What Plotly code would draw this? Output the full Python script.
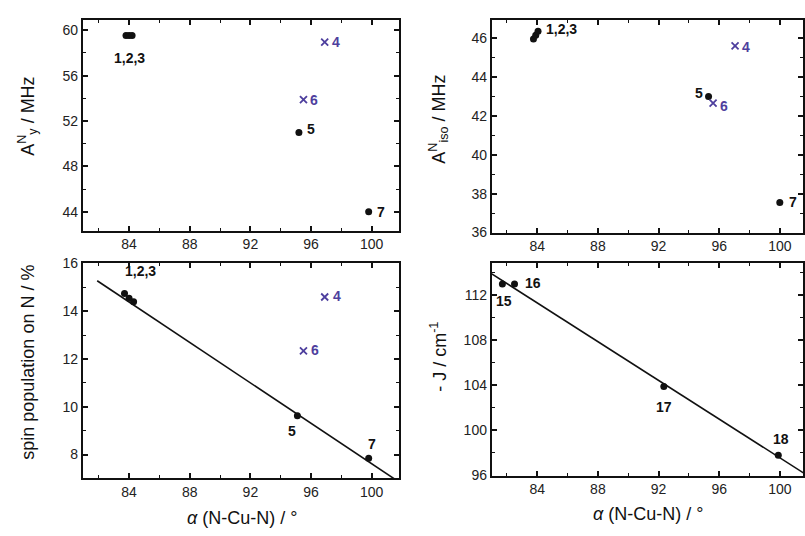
import plotly.graph_objects as go

# ---------------- data ----------------
# panel a: A_y^N vs angle
a_black_x = [83.8, 84.0, 84.2, 95.2, 99.8]
a_black_y = [59.55, 59.55, 59.55, 51.0, 44.0]
a_cross_x = [96.9, 95.5]
a_cross_y = [58.95, 53.9]

# panel b: A_iso^N vs angle
b_black_x = [83.75, 83.9, 84.05, 95.3, 100.0]
b_black_y = [45.95, 46.15, 46.35, 43.0, 37.55]
b_cross_x = [97.05, 95.6]
b_cross_y = [45.6, 42.65]

# panel c: spin population on N vs angle
c_black_x = [83.7, 84.0, 84.3, 95.1, 99.8]
c_black_y = [14.75, 14.55, 14.4, 9.63, 7.85]
c_cross_x = [96.9, 95.5]
c_cross_y = [14.6, 12.34]
c_fit_x = [81.9, 101.5]
c_fit_y = [15.28, 6.98]

# panel d: -J vs angle
d_x = [81.7, 82.5, 92.35, 99.9]
d_y = [113.0, 113.0, 103.9, 97.8]
d_labels = ["15", "16", "17", "18"]
d_fit_x = [81.0, 101.6]
d_fit_y = [113.9, 96.2]

x_ticks = [84, 88, 92, 96, 100]

BLACK = "#111111"
PURPLE = "#4e3f9e"
FONT = "Liberation Sans, Arial, sans-serif"

fig = go.Figure()

def black_pts(x, y, xa, ya):
    fig.add_trace(go.Scatter(x=x, y=y, mode="markers", xaxis=xa, yaxis=ya,
                             marker=dict(color=BLACK, size=7, symbol="circle"),
                             showlegend=False, hoverinfo="skip"))

def cross_pts(x, y, xa, ya):
    fig.add_trace(go.Scatter(x=x, y=y, mode="markers", xaxis=xa, yaxis=ya,
                             marker=dict(color=PURPLE, size=7, symbol="x-thin",
                                         line=dict(color=PURPLE, width=1.8)),
                             showlegend=False, hoverinfo="skip"))

def fit_line(x, y, xa, ya):
    fig.add_trace(go.Scatter(x=x, y=y, mode="lines", xaxis=xa, yaxis=ya,
                             line=dict(color=BLACK, width=1.6),
                             showlegend=False, hoverinfo="skip"))

black_pts(a_black_x, a_black_y, "x", "y")
cross_pts(a_cross_x, a_cross_y, "x", "y")
black_pts(b_black_x, b_black_y, "x2", "y2")
cross_pts(b_cross_x, b_cross_y, "x2", "y2")
fit_line(c_fit_x, c_fit_y, "x3", "y3")
black_pts(c_black_x, c_black_y, "x3", "y3")
cross_pts(c_cross_x, c_cross_y, "x3", "y3")
fit_line(d_fit_x, d_fit_y, "x4", "y4")
black_pts(d_x, d_y, "x4", "y4")

W, H = 805, 536
def dx(a, b):
    return [a / W, b / W]
def dy(top, bot):
    return [1 - bot / H, 1 - top / H]

def xaxis(domain, rng, anchor, labels=True):
    return dict(domain=domain, range=rng, anchor=anchor, tickvals=x_ticks,
                ticks="inside", ticklen=5, tickwidth=1.5, tickcolor=BLACK,
                showline=True, linewidth=2, linecolor=BLACK, mirror="ticks",
                showgrid=False, zeroline=False, showticklabels=labels,
                minor=dict(dtick=2, tick0=84, ticks="inside", ticklen=3, tickwidth=1.2, tickcolor=BLACK),
                tickfont=dict(family=FONT, size=14, color="#222"))

def yaxis(domain, rng, anchor, vals):
    step = vals[1] - vals[0]
    return dict(domain=domain, range=rng, anchor=anchor, tickvals=vals,
                ticks="inside", ticklen=5, tickwidth=1.5, tickcolor=BLACK,
                showline=True, linewidth=2, linecolor=BLACK, mirror="ticks",
                showgrid=False, zeroline=False,
                minor=dict(dtick=step / 2, tick0=vals[0], ticks="inside", ticklen=3, tickwidth=1.2, tickcolor=BLACK),
                tickfont=dict(family=FONT, size=14, color="#222"))

fig.update_layout(
    width=W, height=H, margin=dict(l=0, r=0, t=0, b=0),
    paper_bgcolor="white", plot_bgcolor="white",
    xaxis=xaxis(dx(83, 400), [80.95, 101.8], "y"),
    yaxis=yaxis(dy(13, 230), [42.35, 60.94], "x", [44, 48, 52, 56, 60]),
    xaxis2=xaxis(dx(493, 805), [81.0, 101.53], "y2"),
    yaxis2=yaxis(dy(13, 232), [36, 46.95], "x2", [36, 38, 40, 42, 44, 46]),
    xaxis3=xaxis(dx(83, 400), [80.95, 101.8], "y3"),
    yaxis3=yaxis(dy(263, 485), [7.0, 16.04], "x3", [8, 10, 12, 14, 16]),
    xaxis4=xaxis(dx(493, 805), [81.0, 101.53], "y4"),
    yaxis4=yaxis(dy(263, 482), [96, 114.9], "x4", [96, 100, 104, 108, 112]),
)

LBL = dict(family=FONT, size=14, color=BLACK)
LBLP = dict(family=FONT, size=14, color=PURPLE)
ann = []
def lab(text, x, y, xr, yr, xs=0, ys=0, xanchor="center", font=LBL):
    ann.append(dict(text=text, x=x, y=y, xref=xr, yref=yr, xshift=xs, yshift=ys,
                    showarrow=False, xanchor=xanchor, yanchor="middle", font=font))

B = "<b>%s</b>"
# panel a labels
lab(B % "1,2,3", 84.0, 59.55, "x", "y", 0, -23)
lab(B % "4", a_cross_x[0], a_cross_y[0], "x", "y", 5, 0, "left", LBLP)
lab(B % "6", a_cross_x[1], a_cross_y[1], "x", "y", 5, 0, "left", LBLP)
lab(B % "5", a_black_x[3], a_black_y[3], "x", "y", 6, 3, "left")
lab(B % "7", a_black_x[4], a_black_y[4], "x", "y", 6, 0, "left")
# panel b labels
lab(B % "1,2,3", 84.05, 46.35, "x2", "y2", 6, 2, "left")
lab(B % "4", b_cross_x[0], b_cross_y[0], "x2", "y2", 5, -1, "left", LBLP)
lab(B % "5", b_black_x[3], b_black_y[3], "x2", "y2", -4, 3, "right")
lab(B % "6", b_cross_x[1], b_cross_y[1], "x2", "y2", 5, -3, "left", LBLP)
lab(B % "7", b_black_x[4], b_black_y[4], "x2", "y2", 7, 0, "left")
# panel c labels
lab(B % "1,2,3", 84.0, 14.75, "x3", "y3", 11, 22)
lab(B % "4", c_cross_x[0], c_cross_y[0], "x3", "y3", 6, 1, "left", LBLP)
lab(B % "6", c_cross_x[1], c_cross_y[1], "x3", "y3", 6, 1, "left", LBLP)
lab(B % "5", c_black_x[3], c_black_y[3], "x3", "y3", -5, -15)
lab(B % "7", c_black_x[4], c_black_y[4], "x3", "y3", 3, 14)
# panel d labels
lab(B % d_labels[0], d_x[0], d_y[0], "x4", "y4", 2, -17)
lab(B % d_labels[1], d_x[1], d_y[1], "x4", "y4", 8, 1, "left")
lab(B % d_labels[2], d_x[2], d_y[2], "x4", "y4", 0, -20)
lab(B % d_labels[3], d_x[3], d_y[3], "x4", "y4", 3, 16)

TF = dict(family=FONT, size=18, color=BLACK)
def title(text, x, y, angle=0):
    ann.append(dict(text=text, x=x / W, y=1 - y / H, xref="paper", yref="paper",
                    showarrow=False, textangle=angle, font=TF,
                    xanchor="center", yanchor="middle"))

title("A<sup>N</sup><sub>y</sub> / MHz", 28, 112, -90)
title("A<sup>N</sup><sub>iso</sub> / MHz", 440, 115, -90)
title("spin population on N / %", 28, 365, -90)
title("- J / cm<sup>-1</sup>", 440, 360, -90)
title("<i>α</i> (N-Cu-N) / °", 243, 526)
title("<i>α</i> (N-Cu-N) / °", 650, 522)

fig.update_layout(annotations=ann)
fig.write_html("out.html")
